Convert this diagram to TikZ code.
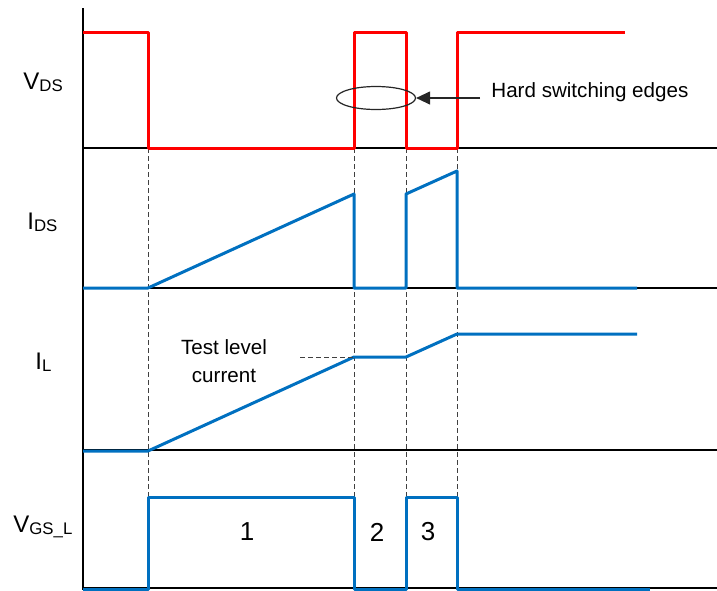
\documentclass[tikz,border=0pt]{standalone}
\usepackage{fontspec}
\setmainfont{Liberation Sans}
\usepackage{tikz}
\usetikzlibrary{shapes.geometric}
\usetikzlibrary{arrows.meta}
\usepackage{xcolor}
\definecolor{wfred}{RGB}{255,0,0}
\definecolor{wfblue}{RGB}{0,112,192}
\newcommand{\siglabel}[2]{#1\raisebox{-1.2pt}{\fontsize{8.4}{9}\selectfont #2}}

\begin{document}
\begin{tikzpicture}[x=0.5pt, y=-0.5pt,
    axis/.style={line width=1pt, black},
    redwave/.style={line width=1.5pt, wfred, line join=round},
    bluewave/.style={line width=1.5pt, wfblue, line join=round},
    guide/.style={gray!50!black, line width=0.5pt, dash pattern=on 2.5pt off 1.5pt},
    siglbl/.style={font=\fontsize{12}{14}\selectfont, anchor=base west, inner sep=0pt},
    numlbl/.style={font=\fontsize{13}{15}\selectfont},
    note/.style={font=\fontsize{10.3}{14}\selectfont, align=center, inner sep=0pt}]
    \useasboundingbox (0,0) rectangle (717,590);

    % switching instants
    \foreach \t in {148,354,406,457}
        \draw[guide] (\t,148) -- (\t,497);

    % axes
    \draw[axis] (83,8) -- (83,590);
    \foreach \y in {148,288,450,588}
        \draw[axis] (83,\y) -- (717,\y);

    % signal names
    \node[siglbl] (vdsl) at (23,89) {\siglabel{V}{DS}};
    \node[siglbl] (idsl) at (27,229) {\siglabel{I}{DS}};
    \node[siglbl] (ill) at (35,369) {\siglabel{I}{L}};
    \node[siglbl] (vgsl) at (13,532) {\siglabel{V}{GS\_L}};

    % V_DS
    \draw[redwave] (83,32) -- (148,32) -- (148,148) -- (354,148) -- (354,32)
        -- (406,32) -- (406,148) -- (457,148) -- (457,32) -- (625,32);

    % I_DS
    \draw[bluewave] (83,288) -- (148,288) -- (354,194) -- (354,288) -- (406,288)
        -- (406,194) -- (457,171) -- (457,288) -- (637,288);

    % I_L
    \coordinate (ilknee) at (354,357);
    \draw[bluewave] (83,451) -- (148,451) -- (ilknee) -- (406,357) -- (457,334) -- (637,334);

    % V_GS_L
    \draw[bluewave] (83,589) -- (148,589) -- (148,497) -- (354,497) -- (354,589)
        -- (406,589) -- (406,497) -- (457,497) -- (457,589) -- (650,589);

    % pulse numbers
    \node[numlbl] (p1) at (247,532) {1};
    \node[numlbl] (p2) at (377,532) {2};
    \node[numlbl] (p3) at (428,532) {3};

    % hard switching marker
    \node[draw, ellipse, gray!30!black, line width=0.6pt, minimum width=39.5pt,
        minimum height=11.5pt, inner sep=0pt] (edges) at (376,98) {};
    \node[note, anchor=base west] (hse) at (491,97) {Hard switching edges};
    \coordinate (hsetail) at (480,98);
    \draw[gray!30!black, line width=0.6pt, -{Triangle[length=7pt, width=6.5pt]}] (hsetail) -- (edges);

    % test level
    \node[note] (tlc) at (224,361) {Test level\\current};
    \coordinate (tlctail) at (300,357);
    \draw[guide] (tlctail) -- (ilknee);
\end{tikzpicture}
\end{document}
